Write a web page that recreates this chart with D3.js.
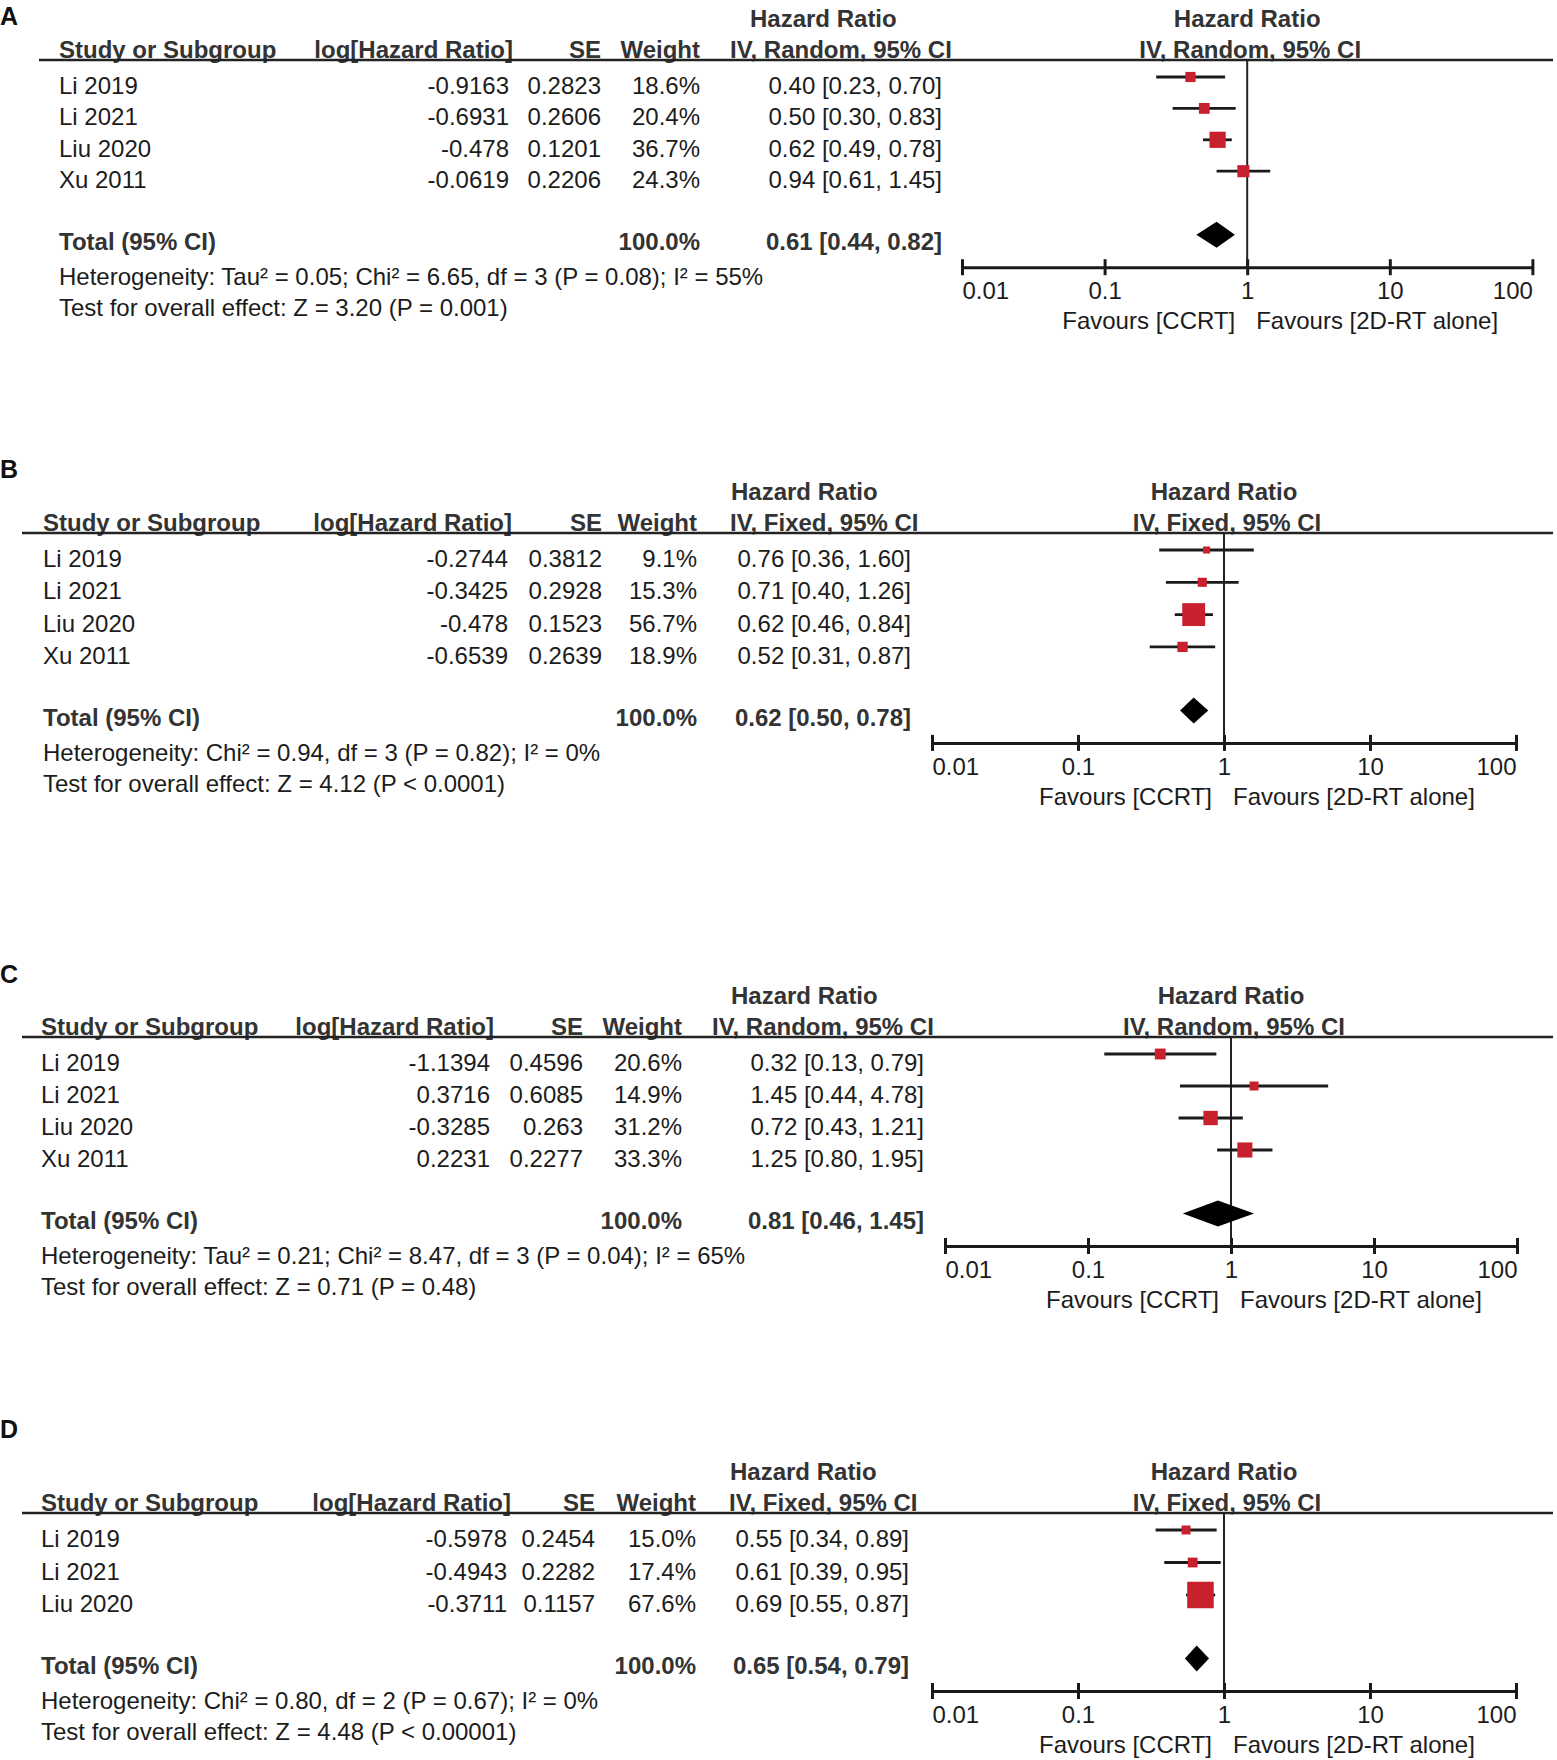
<!DOCTYPE html>
<html>
<head>
<meta charset="utf-8">
<script src="https://cdn.jsdelivr.net/npm/d3@7"></script>
<style>
  body { margin: 0; background: #fff; }
  text { font-family: "Liberation Sans", Arial, Helvetica, sans-serif; }
</style>
</head>
<body>
<svg id="chart"></svg>
<script>
// ---- data ----
const studiesA = ["Li 2019", "Li 2021", "Liu 2020", "Xu 2011"];
const logHrA = [-0.9163, -0.6931, -0.478, -0.0619];
const seA = [0.2823, 0.2606, 0.1201, 0.2206];
const weightA = [18.6, 20.4, 36.7, 24.3];
const hrA = [0.40, 0.50, 0.62, 0.94];
const loA = [0.23, 0.30, 0.49, 0.61];
const hiA = [0.70, 0.83, 0.78, 1.45];
const totalA = [0.61, 0.44, 0.82];

const studiesB = ["Li 2019", "Li 2021", "Liu 2020", "Xu 2011"];
const logHrB = [-0.2744, -0.3425, -0.478, -0.6539];
const seB = [0.3812, 0.2928, 0.1523, 0.2639];
const weightB = [9.1, 15.3, 56.7, 18.9];
const hrB = [0.76, 0.71, 0.62, 0.52];
const loB = [0.36, 0.40, 0.46, 0.31];
const hiB = [1.60, 1.26, 0.84, 0.87];
const totalB = [0.62, 0.50, 0.78];

const studiesC = ["Li 2019", "Li 2021", "Liu 2020", "Xu 2011"];
const logHrC = [-1.1394, 0.3716, -0.3285, 0.2231];
const seC = [0.4596, 0.6085, 0.263, 0.2277];
const weightC = [20.6, 14.9, 31.2, 33.3];
const hrC = [0.32, 1.45, 0.72, 1.25];
const loC = [0.13, 0.44, 0.43, 0.80];
const hiC = [0.79, 4.78, 1.21, 1.95];
const totalC = [0.81, 0.46, 1.45];

const studiesD = ["Li 2019", "Li 2021", "Liu 2020"];
const logHrD = [-0.5978, -0.4943, -0.3711];
const seD = [0.2454, 0.2282, 0.1157];
const weightD = [15.0, 17.4, 67.6];
const hrD = [0.55, 0.61, 0.69];
const loD = [0.34, 0.39, 0.55];
const hiD = [0.89, 0.95, 0.87];
const totalD = [0.65, 0.54, 0.79];

const tickValues = [0.01, 0.1, 1, 10, 100];
const tickLabels = ["0.01", "0.1", "1", "10", "100"];

const panels = [
  { letter: "A", studies: studiesA, logHr: logHrA, se: seA, weight: weightA, hr: hrA, lo: loA, hi: hiA, total: totalA,
    model: "IV, Random, 95% CI",
    het: "Heterogeneity: Tau² = 0.05; Chi² = 6.65, df = 3 (P = 0.08); I² = 55%",
    test: "Test for overall effect: Z = 3.20 (P = 0.001)",
    lay: { letterY: 25, lineY: 60, step: 31.4, lineX0: 39, studyX: 59, logR: 509, seR: 601, wR: 700, ciR: 942, ivX: 730, hrHeadX: 750, axisX0: 962, decade: 142.6 } },
  { letter: "B", studies: studiesB, logHr: logHrB, se: seB, weight: weightB, hr: hrB, lo: loB, hi: hiB, total: totalB,
    model: "IV, Fixed, 95% CI",
    het: "Heterogeneity: Chi² = 0.94, df = 3 (P = 0.82); I² = 0%",
    test: "Test for overall effect: Z = 4.12 (P < 0.0001)",
    lay: { letterY: 478, lineY: 533, step: 32.3, lineX0: 22, studyX: 43, logR: 508, seR: 602, wR: 697, ciR: 911, ivX: 730, hrHeadX: 731, axisX0: 932, decade: 146 } },
  { letter: "C", studies: studiesC, logHr: logHrC, se: seC, weight: weightC, hr: hrC, lo: loC, hi: hiC, total: totalC,
    model: "IV, Random, 95% CI",
    het: "Heterogeneity: Tau² = 0.21; Chi² = 8.47, df = 3 (P = 0.04); I² = 65%",
    test: "Test for overall effect: Z = 0.71 (P = 0.48)",
    lay: { letterY: 983, lineY: 1037, step: 32, lineX0: 22, studyX: 41, logR: 490, seR: 583, wR: 682, ciR: 924, ivX: 712, hrHeadX: 731, axisX0: 945, decade: 143 } },
  { letter: "D", studies: studiesD, logHr: logHrD, se: seD, weight: weightD, hr: hrD, lo: loD, hi: hiD, total: totalD,
    model: "IV, Fixed, 95% CI",
    het: "Heterogeneity: Chi² = 0.80, df = 2 (P = 0.67); I² = 0%",
    test: "Test for overall effect: Z = 4.48 (P < 0.00001)",
    lay: { letterY: 1438, lineY: 1513, step: 32.5, lineX0: 22, studyX: 41, logR: 507, seR: 595, wR: 696, ciR: 909, ivX: 729, hrHeadX: 730, axisX0: 932, decade: 146 } }
];

// ---- drawing ----
const W = 1557, H = 1760;
const FS = 24;
const INK = "#1c1c1c", HEAD = "#333", RED = "#c8202c";

const svg = d3.select("#chart").attr("width", W).attr("height", H)
  .style("background", "#fff");

// square side grows with study weight
const sizeScale = d3.scaleLinear().domain([0, 100]).range([4, 37.3]);

const ci = (h, l, u) => `${h.toFixed(2)} [${l.toFixed(2)}, ${u.toFixed(2)}]`;

function txt(g, x, y, s, opts = {}) {
  return g.append("text")
    .attr("x", x).attr("y", y)
    .attr("font-size", opts.size || FS)
    .attr("font-weight", opts.bold ? "bold" : "normal")
    .attr("text-anchor", opts.anchor || "start")
    .attr("fill", opts.fill || (opts.bold ? HEAD : INK))
    .text(s);
}

panels.forEach(p => {
  const L = p.lay;
  const g = svg.append("g");
  const n = p.studies.length;
  const rowY = i => L.lineY + 34 + L.step * i;
  const totY = rowY(n - 1) + 62;
  const axisY = totY + 17;
  const x = d3.scaleLog().domain([0.01, 100]).range([L.axisX0, L.axisX0 + 4 * L.decade]);
  const x1 = x(1);

  // panel letter
  txt(g, 0, L.letterY, p.letter, { bold: true, size: 25, fill: "#111" });

  // column headers
  txt(g, L.hrHeadX, L.lineY - 33, "Hazard Ratio", { bold: true });
  txt(g, x1, L.lineY - 33, "Hazard Ratio", { bold: true, anchor: "middle" });
  const hy = L.lineY - 2;
  txt(g, L.studyX, hy, "Study or Subgroup", { bold: true });
  txt(g, L.logR + 4, hy, "log[Hazard Ratio]", { bold: true, anchor: "end" });
  txt(g, L.seR, hy, "SE", { bold: true, anchor: "end" });
  txt(g, L.wR, hy, "Weight", { bold: true, anchor: "end" });
  txt(g, L.ivX, hy, p.model, { bold: true });
  txt(g, x1 + 3, hy, p.model, { bold: true, anchor: "middle" });

  g.append("line")
    .attr("x1", L.lineX0).attr("x2", 1553)
    .attr("y1", L.lineY).attr("y2", L.lineY)
    .attr("stroke", "#222").attr("stroke-width", 2.5);

  // study rows
  p.studies.forEach((s, i) => {
    const y = rowY(i);
    txt(g, L.studyX, y, s);
    txt(g, L.logR, y, String(p.logHr[i]), { anchor: "end" });
    txt(g, L.seR, y, String(p.se[i]), { anchor: "end" });
    txt(g, L.wR, y, p.weight[i].toFixed(1) + "%", { anchor: "end" });
    txt(g, L.ciR, y, ci(p.hr[i], p.lo[i], p.hi[i]), { anchor: "end" });
  });

  // total row and footnotes
  txt(g, L.studyX, totY, "Total (95% CI)", { bold: true });
  txt(g, L.wR, totY, "100.0%", { bold: true, anchor: "end" });
  txt(g, L.ciR, totY, ci(p.total[0], p.total[1], p.total[2]), { bold: true, anchor: "end" });
  txt(g, L.studyX, totY + 35, p.het);
  txt(g, L.studyX, totY + 66, p.test);

  // line of no effect
  g.append("line")
    .attr("x1", x1).attr("x2", x1)
    .attr("y1", L.lineY).attr("y2", axisY)
    .attr("stroke", "#222").attr("stroke-width", 2);

  // CI whiskers + weighted squares
  const idx = d3.range(n);
  g.selectAll(".whisk").data(idx).enter().append("line")
    .attr("x1", i => x(p.lo[i])).attr("x2", i => x(p.hi[i]))
    .attr("y1", i => rowY(i) - 17).attr("y2", i => rowY(i) - 17)
    .attr("stroke", "#1a1a1a").attr("stroke-width", 2.8);
  g.selectAll(".sq").data(idx).enter().append("rect")
    .attr("x", i => x(p.hr[i]) - sizeScale(p.weight[i]) / 2)
    .attr("y", i => rowY(i) - 17 - sizeScale(p.weight[i]) / 2)
    .attr("width", i => sizeScale(p.weight[i]))
    .attr("height", i => sizeScale(p.weight[i]))
    .attr("fill", RED);

  // pooled diamond
  const dy = totY - 15.5;
  g.append("path")
    .attr("d", d3.line()([
      [x(p.total[1]), dy], [x(p.total[0]), dy - 13],
      [x(p.total[2]), dy], [x(p.total[0]), dy + 13]
    ]) + "Z")
    .attr("fill", "#000");

  // log axis
  const ax = g.append("g")
    .attr("transform", `translate(0,${axisY})`)
    .call(d3.axisBottom(x).tickValues(tickValues)
      .tickFormat((d, i) => tickLabels[i]).tickSizeOuter(0).tickSizeInner(8));
  ax.select(".domain").attr("stroke", "#1a1a1a").attr("stroke-width", 3);
  ax.selectAll(".tick line").attr("y1", -8).attr("y2", 8)
    .attr("stroke", "#1a1a1a").attr("stroke-width", 3);
  ax.selectAll(".tick text")
    .attr("y", 32).attr("dy", null)
    .attr("font-size", FS).attr("fill", INK)
    .attr("font-family", "'Liberation Sans', Arial, sans-serif")
    .attr("text-anchor", (d, i) => i === 0 ? "start" : (i === tickValues.length - 1 ? "end" : "middle"));

  txt(g, x1 - 12, axisY + 62, "Favours [CCRT]", { anchor: "end" });
  txt(g, x1 + 9, axisY + 62, "Favours [2D-RT alone]");
});
</script>
</body>
</html>
